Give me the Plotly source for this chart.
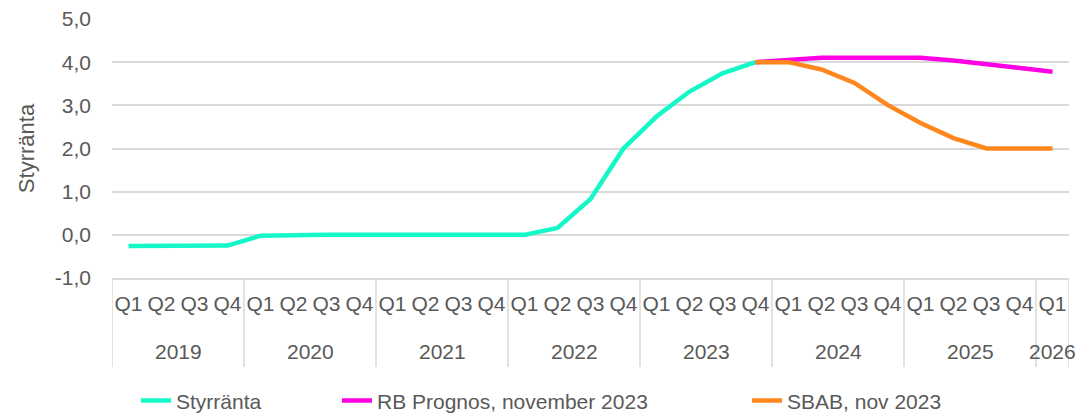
import plotly.graph_objects as go

# Quarterly categories, 2019 Q1 – 2026 Q1
years = ["2019"] * 4 + ["2020"] * 4 + ["2021"] * 4 + ["2022"] * 4 + ["2023"] * 4 + \
        ["2024"] * 4 + ["2025"] * 4 + ["2026"]
quarters = ["Q1", "Q2", "Q3", "Q4"] * 7 + ["Q1"]

# Policy rate outcome (percent), 2019 Q1 – 2023 Q4
styrranta = [-0.26, -0.25, -0.25, -0.25,
             -0.02, 0.0, 0.0, 0.0,
             0.0, 0.0, 0.0, 0.0,
             0.0, 0.16, 0.83, 2.0,
             2.74, 3.32, 3.74, 4.0]

# Riksbank forecast, November 2023, 2023 Q4 – 2026 Q1
rb_prognos = [4.0, 4.06, 4.1, 4.1, 4.1, 4.1, 4.04, 3.95, 3.87, 3.78]

# SBAB forecast, November 2023, 2023 Q4 – 2026 Q1
sbab = [4.0, 4.0, 3.83, 3.52, 3.01, 2.59, 2.24, 2.0, 2.0, 2.0]

y_ticks = [-1, 0, 1, 2, 3, 4, 5]
y_tick_text = ["-1,0", "0,0", "1,0", "2,0", "3,0", "4,0", "5,0"]

n = len(quarters)
periods = [f"{y} {q}" for y, q in zip(years, quarters)]
start_fc = len(styrranta) - 1
styr_full = styrranta + [None] * (n - len(styrranta))
rb_full = [None] * start_fc + rb_prognos
sbab_full = [None] * start_fc + sbab

FONT = "Liberation Sans, Arial, sans-serif"
FS = 21
TXT = "#595959"
GRID = "#d9d9d9"
PLOT_L, PLOT_W, PLOT_T, PLOT_H = 112, 957, 19, 259
H = 414

fig = go.Figure()
fig.add_trace(go.Scatter(x=periods, y=styr_full, mode="lines", name="Styrränta",
                         line=dict(color="#14F7C7", width=4.5), legend="legend"))
fig.add_trace(go.Scatter(x=periods, y=rb_full, mode="lines",
                         name="RB Prognos, november 2023",
                         line=dict(color="#FF00E4", width=4.5), legend="legend2"))
fig.add_trace(go.Scatter(x=periods, y=sbab_full, mode="lines",
                         name="SBAB, nov 2023",
                         line=dict(color="#FF871E", width=4.5), legend="legend3"))


def paper_y(py):
    return (PLOT_T + PLOT_H - py) / PLOT_H


# Year group labels and dividers below the quarter labels
groups = []
for i, y in enumerate(years):
    if not groups or groups[-1][0] != y:
        groups.append([y, i, i])
    else:
        groups[-1][2] = i

annotations = []
shapes = []
for y, i0, i1 in groups:
    annotations.append(dict(x=(i0 + i1) / 2, xref="x", y=paper_y(352), yref="paper",
                            text=y, showarrow=False, yanchor="middle",
                            font=dict(size=FS, color=TXT)))
    shapes.append(dict(type="line", xref="x", yref="paper", x0=i0 - 0.5, x1=i0 - 0.5,
                       y0=0, y1=paper_y(367), line=dict(color=GRID, width=1.5)))
shapes.append(dict(type="line", xref="x", yref="paper", x0=n - 0.5, x1=n - 0.5,
                   y0=0, y1=paper_y(367), line=dict(color=GRID, width=1.5)))


def legend_at(px):
    return dict(orientation="h", x=(px - PLOT_L) / PLOT_W, xanchor="left",
                y=-0.395, yanchor="top", font=dict(size=FS, color=TXT),
                bgcolor="rgba(0,0,0,0)")


fig.update_layout(
    width=1076, height=H,
    margin=dict(l=PLOT_L, r=1076 - PLOT_L - PLOT_W, t=PLOT_T, b=H - PLOT_T - PLOT_H,
                autoexpand=False),
    paper_bgcolor="white", plot_bgcolor="white",
    font=dict(family=FONT, size=FS, color=TXT),
    showlegend=True,
    legend=legend_at(136),
    legend2=legend_at(337),
    legend3=legend_at(747),
    annotations=annotations,
    shapes=shapes,
    xaxis=dict(type="category", range=[-0.5, n - 0.5], tickvals=periods, ticktext=quarters,
               showgrid=False, showline=True, linecolor=GRID, linewidth=1.5,
               tickfont=dict(size=FS, color=TXT), ticks="", tickangle=0,
               ticklabelstandoff=6, automargin=False),
    yaxis=dict(range=[-1, 5], tickvals=y_ticks, ticktext=y_tick_text, showgrid=True,
               gridcolor=GRID, gridwidth=1.5, zeroline=True, zerolinecolor=GRID,
               zerolinewidth=1.5, showline=False, ticks="", automargin=False,
               tickfont=dict(size=FS, color=TXT), ticklabelstandoff=20,
               title=dict(text="Styrränta", font=dict(size=22, color=TXT), standoff=14)),
)

fig.write_html("out.html")
